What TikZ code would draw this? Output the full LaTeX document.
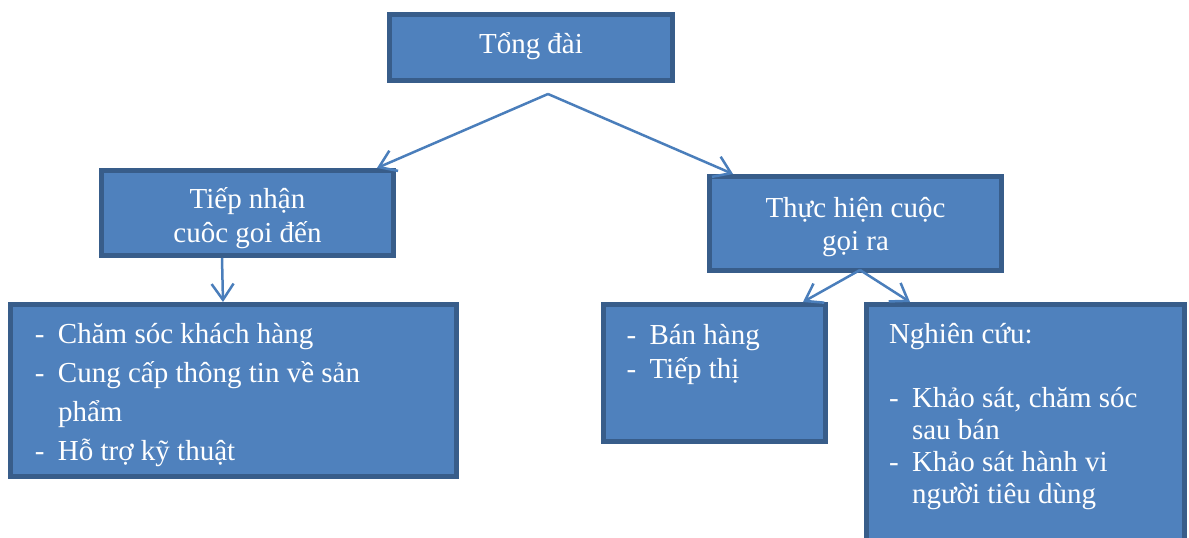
\documentclass[tikz,border=0pt]{standalone}
\usepackage{fontspec}
\setmainfont{Liberation Serif}
\usetikzlibrary{arrows.meta, positioning}
\definecolor{hopfill}{HTML}{4F81BD}
\definecolor{hopline}{HTML}{385D8A}
\definecolor{muiten}{HTML}{4A7EBB}
\tikzset{
    hop/.style={draw=hopline, fill=hopfill, line width=5pt, rectangle, inner sep=0pt, text=white},
    arrow/.style={-{Straight Barb[length=16pt, width=22pt]}, line width=2.5pt, draw=muiten}
}
% khung chu: rong, cao, dong dau, cach dong, noi dung
\newcommand{\hopchu}[5]{\parbox[t][#2][t]{#1}{\fontsize{29}{#4}\selectfont\rule{0pt}{#3}#5}}
\newcommand{\dong}[1]{\hangindent=23pt\hangafter=1\noindent\makebox[23pt][l]{-}#1\par}

\begin{document}
\begin{tikzpicture}[x=1pt, y=-1pt]
        \useasboundingbox (0,0) rectangle (1189,538);
        \clip (0,0) rectangle (1189,538);

        % Cac hop chinh
        \node (tongdai) [hop] at (531,47.5) {\hopchu{283pt}{66pt}{38.5pt}{34pt}{\centering Tổng đài}};
        \node (tiepnhan) [hop] at (247.5,213) {\hopchu{292pt}{85pt}{37.5pt}{34pt}{\centering Tiếp nhận\\ cuôc goi đến}};
        \node (thuchien) [hop] at (855.5,223.5) {\hopchu{292pt}{94pt}{40.5pt}{33pt}{\centering Thực hiện cuộc\\ gọi ra}};

        % Cac hop danh sach
        \node (hotro) [hop] at (233.5,390.5) {\hopchu{446pt}{172pt}{38.5pt}{39pt}{\leftskip=24.5pt\relax
            \dong{Chăm sóc khách hàng}\dong{Cung cấp thông tin về sản\\ phẩm}\dong{Hỗ trợ kỹ thuật}}};
        \node (banhang) [hop] at (714.5,373) {\hopchu{222pt}{137pt}{39.5pt}{34pt}{\leftskip=23pt\relax
            \dong{Bán hàng}\dong{Tiếp thị}}};
        \node (nghiencuu) [hop] at (1025.5,432.25) {\hopchu{318pt}{255.5pt}{38.5pt}{32pt}{\leftskip=22.5pt\relax
            Nghiên cứu:\par\mbox{}\par\dong{Khảo sát, chăm sóc\\ sau bán}\dong{Khảo sát hành vi\\ người tiêu dùng}}};

        % Mui ten
        \coordinate (tach) at ([xshift=17pt, yshift=-11pt]tongdai.south);
        \draw [arrow] (tach) -- ([xshift=-19pt]tiepnhan.north east);
        \draw [arrow] (tach) -- ([xshift=26pt]thuchien.north west);
        \draw [arrow] ([xshift=-25.5pt]tiepnhan.south) -- ([xshift=-10.5pt]hotro.north);
        \draw [arrow] ([xshift=4.5pt, yshift=3pt]thuchien.south) -- ([xshift=-25pt]banhang.north east);
        \draw [arrow] ([xshift=4.5pt, yshift=3pt]thuchien.south) -- ([xshift=46pt]nghiencuu.north west);

\end{tikzpicture}
\end{document}
